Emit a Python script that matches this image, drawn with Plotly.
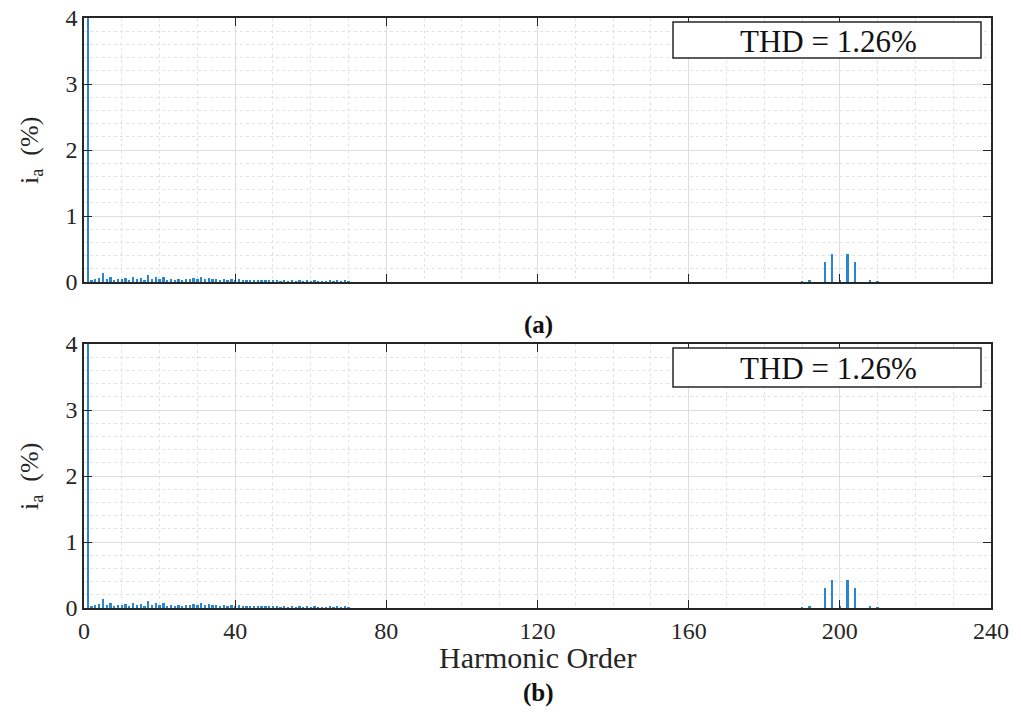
import plotly.graph_objects as go

# ---- data ----
fund_order = [1]
fund_value = [100.0]

low_orders = list(range(2, 71))
low_values = [0.03, 0.05, 0.06, 0.13, 0.04, 0.08, 0.03, 0.05, 0.04, 0.06,
              0.03, 0.07, 0.04, 0.06, 0.03, 0.10, 0.04, 0.07, 0.05, 0.08,
              0.03, 0.05, 0.03, 0.04, 0.03, 0.05, 0.04, 0.06, 0.05, 0.07,
              0.05, 0.06, 0.04, 0.05, 0.03, 0.04, 0.03, 0.04, 0.03, 0.04,
              0.02, 0.03, 0.02, 0.03, 0.02, 0.02, 0.02, 0.02, 0.02, 0.02,
              0.01, 0.02, 0.01, 0.02, 0.01, 0.02, 0.01, 0.02, 0.01, 0.02,
              0.01, 0.015, 0.01, 0.02, 0.01, 0.02, 0.01, 0.02, 0.01]

high_orders = [190, 192, 196, 198, 200, 202, 204, 208, 210]
high_values = [0.015, 0.02, 0.30, 0.43, 0.02, 0.43, 0.30, 0.02, 0.015]

x_ticks = [0, 40, 80, 120, 160, 200, 240]
y_ticks = [0, 1, 2, 3, 4]
thd_text = "THD = 1.26%"
panel_labels = ["(a)", "(b)"]
x_title = "Harmonic Order"
y_title = "i<sub>a</sub>  (%)"

orders = fund_order + low_orders + high_orders
values = fund_value + low_values + high_values

BLUE = "#2a86d3"
DARK = "#262626"
FONT = "Liberation Serif"
W, H = 1021, 714


def px(xp):
    return xp / W


def py(yp):
    return 1 - yp / H


fig = go.Figure()
for ax in ["", "2"]:
    fig.add_trace(go.Bar(x=orders, y=values, width=0.6,
                         marker=dict(color=BLUE, line=dict(width=0)),
                         xaxis="x" + ax, yaxis="y" + ax, showlegend=False,
                         hoverinfo="x+y"))

xd = [px(84), px(991)]
top_d = [py(282), py(18)]
bot_d = [py(608), py(344)]

common_x = dict(range=[0, 240], tickvals=x_ticks, showline=True, linecolor=DARK,
                linewidth=1.5, mirror="ticks", ticks="inside", ticklen=8,
                tickcolor=DARK, tickwidth=1.2, showgrid=True, gridcolor="#dedede",
                gridwidth=1, zeroline=False, domain=xd, automargin=False,
                tickfont=dict(family=FONT, size=24, color=DARK),
                minor=dict(dtick=10, showgrid=True, gridcolor="#e2e2e2",
                           griddash="dot", gridwidth=1))
common_y = dict(range=[0, 4], tickvals=y_ticks, showline=True, linecolor=DARK,
                linewidth=1.5, mirror="ticks", ticks="inside", ticklen=8,
                tickcolor=DARK, tickwidth=1.2, showgrid=True, gridcolor="#dedede",
                gridwidth=1, zeroline=False, automargin=False,
                tickfont=dict(family=FONT, size=24, color=DARK),
                minor=dict(dtick=0.2, showgrid=True, gridcolor="#e2e2e2",
                           griddash="dot", gridwidth=1))

fig.update_layout(
    width=W, height=H, margin=dict(l=0, r=0, t=0, b=0),
    paper_bgcolor="white", plot_bgcolor="white", bargap=0,
    xaxis=dict(common_x, anchor="y", showticklabels=False),
    yaxis=dict(common_y, domain=top_d, anchor="x"),
    xaxis2=dict(common_x, anchor="y2"),
    yaxis2=dict(common_y, domain=bot_d, anchor="x2"),
)

# THD boxes
boxes = [(58, 22), (387, 348)]
for yb, yt in boxes:
    fig.add_shape(type="rect", xref="paper", yref="paper",
                  x0=px(673), x1=px(981), y0=py(yb), y1=py(yt),
                  line=dict(color=DARK, width=1.5), fillcolor="white", layer="above")
    fig.add_annotation(xref="paper", yref="paper", x=px(828), y=py((yb + yt) / 2 + 1),
                       xanchor="center", yanchor="middle",
                       text=thd_text, showarrow=False,
                       font=dict(family=FONT, size=31, color="#111111"))

# y-axis titles
for yc in [151, 477]:
    fig.add_annotation(xref="paper", yref="paper", x=px(31), y=py(yc),
                       xanchor="center", yanchor="middle", textangle=-90,
                       text=y_title, showarrow=False,
                       font=dict(family=FONT, size=26, color=DARK))

# x-axis title
fig.add_annotation(xref="paper", yref="paper", x=px(537), y=py(657),
                   xanchor="center", yanchor="middle",
                   text=x_title, showarrow=False,
                   font=dict(family=FONT, size=30, color=DARK))

# panel labels
for lab, ypix in zip(panel_labels, [325, 693]):
    fig.add_annotation(xref="paper", yref="paper", x=px(538), y=py(ypix),
                       xanchor="center", yanchor="middle",
                       text="<b>" + lab + "</b>", showarrow=False,
                       font=dict(family=FONT, size=25, color="#111111"))

fig.write_html("out.html", config={"displayModeBar": False},
               post_script="document.body.style.margin='0';"
                           "document.body.style.overflow='hidden';")
